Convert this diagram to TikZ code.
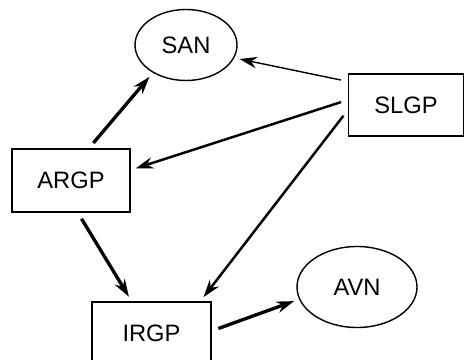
\documentclass[tikz,border=0pt]{standalone}
\usepackage{fontspec}
\setmainfont{Liberation Sans}
\usepackage{tikz}
\usetikzlibrary{arrows.meta}
\usetikzlibrary{shapes.geometric}

\begin{document}
\begin{tikzpicture}
		\useasboundingbox (0,0) rectangle (9.28,-7.2);
		\begin{scope}[every node/.style={draw=black,line width=0.8pt,font=\fontsize{13.5}{15}\selectfont}]
		\node[shape=ellipse,minimum width=2.04cm,minimum height=1.42cm] (SAN) at (3.72,-0.90) {SAN};
		\node[shape=rectangle,minimum width=2.3cm,minimum height=1.24cm] (SLGP) at (8.12,-2.10) {SLGP};
		\node[shape=rectangle,minimum width=2.36cm,minimum height=1.26cm] (ARGP) at (1.42,-3.61) {ARGP};
		\node[shape=rectangle,minimum width=2.38cm,minimum height=1.24cm] (IRGP) at (3.03,-6.66) {IRGP};
		\node[shape=ellipse,minimum width=2.4cm,minimum height=1.62cm] (AVN) at (7.14,-5.74) {AVN};
		\end{scope}

		\begin{scope}[>={Stealth[length=10pt,width=6.5pt]},
		shorten <=4pt, shorten >=3pt,
		thickarr/.style={line width=1.9pt},
		midarr/.style={line width=1.4pt},
		thinarr/.style={line width=0.8pt}]
		\path [->, draw, thickarr] (ARGP.61) -- (SAN.220);
		\path [->, draw, thinarr] (SLGP.158) -- (SAN.345);
		\path [->, draw, midarr] (SLGP.175) -- (ARGP.10);
		\path [->, draw, midarr] (SLGP.185) -- (IRGP.33);
		\path [->, draw, thickarr] (ARGP.282) -- (IRGP.122);
		\path [->, draw, thickarr] (IRGP.2) -- (AVN.192);
		\end{scope}
		\end{tikzpicture}
\end{document}
